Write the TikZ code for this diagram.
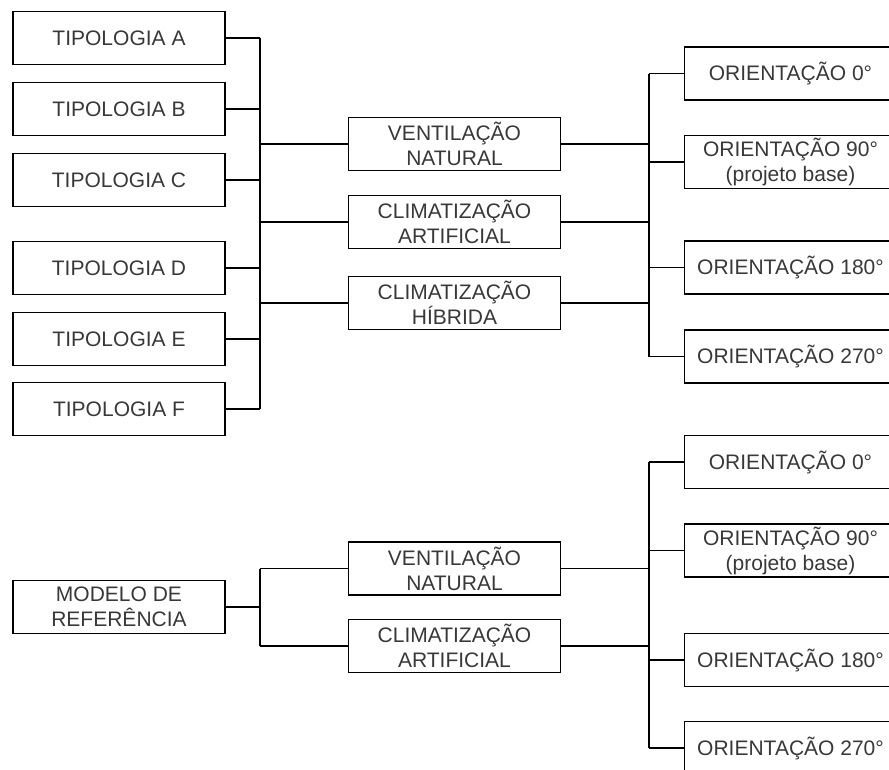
\documentclass[tikz,border=0pt]{standalone}
\usepackage{fontspec}
\setmainfont{Liberation Sans}
\definecolor{texto}{HTML}{383838}
\tikzset{
  caixa/.style={draw, line width=1.4pt, minimum width=212pt, minimum height=53pt,
    inner sep=0pt, align=center, text=texto, font=\fontsize{21}{25}\selectfont},
  linha/.style={line width=1.4pt}
}
\begin{document}
\begin{tikzpicture}[x=1pt, y=-1pt]
\useasboundingbox (0,0) rectangle (889,769);
% tipologias
\node[caixa] (tA) at (119,38) {TIPOLOGIA A};
\node[caixa] (tB) at (119,109) {TIPOLOGIA B};
\node[caixa] (tC) at (119,180) {TIPOLOGIA C};
\node[caixa] (tD) at (119,268) {TIPOLOGIA D};
\node[caixa] (tE) at (119,339) {TIPOLOGIA E};
\node[caixa] (tF) at (119,409) {TIPOLOGIA F};
\node[caixa] (vn) at (454.5,144) {VENTILAÇÃO\\NATURAL};
\node[caixa] (ca) at (454.5,222) {CLIMATIZAÇÃO\\ARTIFICIAL};
\node[caixa] (ch) at (454.5,303) {CLIMATIZAÇÃO\\HÍBRIDA};
\node[caixa] (o0) at (790.5,73.5) {ORIENTAÇÃO 0°};
\node[caixa] (o90) at (790.5,162) {ORIENTAÇÃO 90°\\(projeto base)};
\node[caixa] (o180) at (790.5,267.5) {ORIENTAÇÃO 180°};
\node[caixa] (o270) at (790.5,356.5) {ORIENTAÇÃO 270°};
% modelo de referencia
\node[caixa] (mr) at (119,607) {MODELO DE\\REFERÊNCIA};
\node[caixa] (vn2) at (454.5,568.5) {VENTILAÇÃO\\NATURAL};
\node[caixa] (ca2) at (454.5,646) {CLIMATIZAÇÃO\\ARTIFICIAL};
\node[caixa] (p0) at (790.5,462) {ORIENTAÇÃO 0°};
\node[caixa] (p90) at (790.5,550.5) {ORIENTAÇÃO 90°\\(projeto base)};
\node[caixa] (p180) at (790.5,660) {ORIENTAÇÃO 180°};
\node[caixa] (p270) at (790.5,748) {ORIENTAÇÃO 270°};
\coordinate (j1) at (260,0);
\coordinate (j2) at (649,0);

\foreach \n in {tA,tB,tC,tD,tE,tF} \draw[linha] (\n.east)--(\n.east -| j1);
\draw[linha] (tA.east -| j1)--(tF.east -| j1);
\foreach \n in {vn,ca,ch} \draw[linha] (\n.west -| j1)--(\n.west);
\foreach \n in {vn,ca,ch} \draw[linha] (\n.east)--(\n.east -| j2);
\draw[linha] (o0.west -| j2)--(o270.west -| j2);
\foreach \n in {o0,o90,o180,o270} \draw[linha] (\n.west -| j2)--(\n.west);

\draw[linha] (mr.east)--(mr.east -| j1);
\draw[linha] (vn2.west -| j1)--(ca2.west -| j1);
\foreach \n in {vn2,ca2} \draw[linha] (\n.west -| j1)--(\n.west);
\foreach \n in {vn2,ca2} \draw[linha] (\n.east)--(\n.east -| j2);
\draw[linha] (p0.west -| j2)--(p270.west -| j2);
\foreach \n in {p0,p90,p180,p270} \draw[linha] (\n.west -| j2)--(\n.west);
\end{tikzpicture}
\end{document}
